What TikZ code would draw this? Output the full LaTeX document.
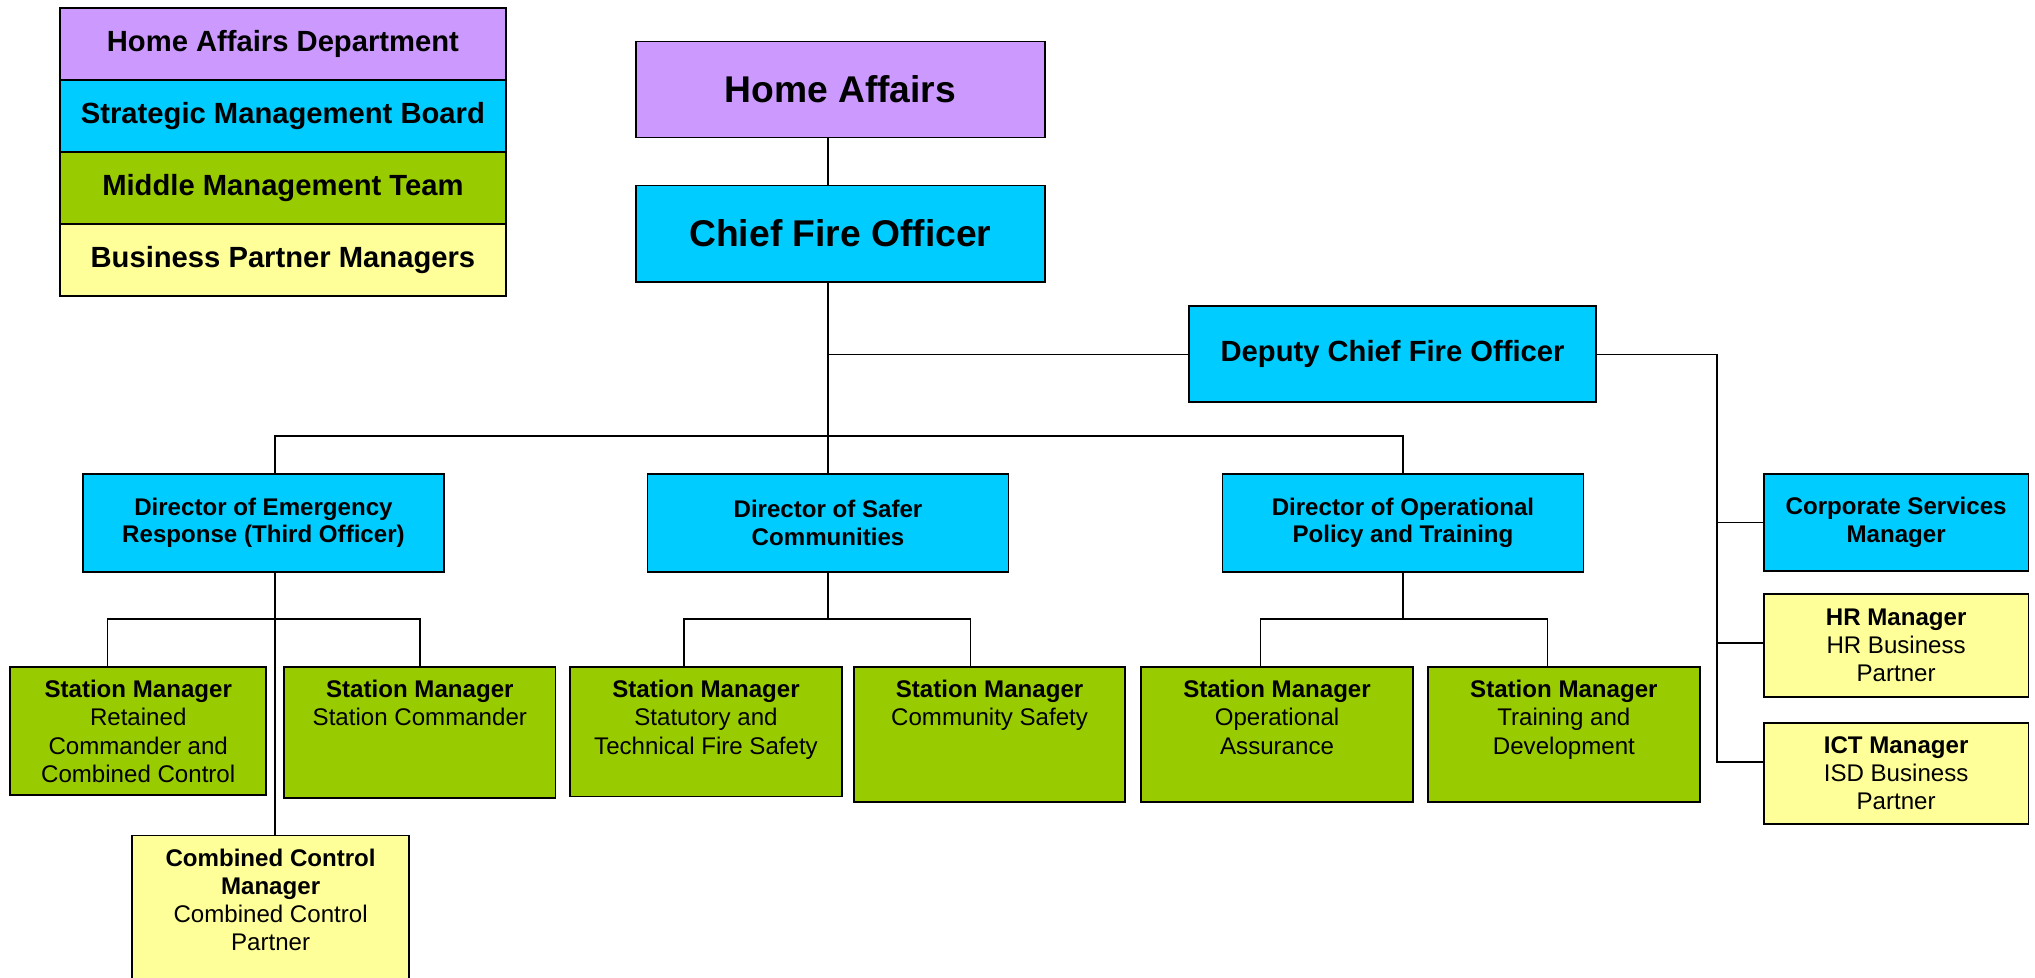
\documentclass[tikz,border=0pt]{standalone}
\usepackage{fontspec}
\setmainfont{Liberation Sans}
\usetikzlibrary{calc}
\definecolor{HomeClr}{HTML}{CC99FF}
\definecolor{BoardClr}{HTML}{00CCFF}
\definecolor{TeamClr}{HTML}{99CC00}
\definecolor{PartnerClr}{HTML}{FFFF99}
\newcommand{\topalign}[3]{\parbox[c][#1][t]{#2}{\centering\vspace*{7.5pt}#3}}

\begin{document}
\begin{tikzpicture}[x=0.025cm,y=-0.025cm,
  box/.style={draw=black,line width=1pt,inner sep=0pt,align=center,
    font=\fontsize{13.2}{15.4}\selectfont},
  legend/.style={box,minimum width=8.6cm,minimum height=1.3875cm,
    font=\bfseries\fontsize{16}{19}\selectfont},
  top/.style={box,fill=#1,minimum width=7.875cm,minimum height=1.85cm,
    font=\bfseries\fontsize{20.4}{24}\selectfont},
  director/.style={box,fill=BoardClr,minimum width=6.95cm,minimum height=1.9cm,
    font=\bfseries\fontsize{13.2}{15}\selectfont},
  side/.style={box,fill=#1,minimum width=5.1cm},
  station/.style={box,fill=TeamClr,anchor=north},
  link/.style={line width=0.8pt}]
\useasboundingbox (0,0) rectangle (1568,753);

% Legend.
\node[legend,fill=HomeClr] (kHome) at (218,33.75) {Home Affairs Department};
\node[legend,fill=BoardClr] (kBoard) at (218,89.25) {Strategic Management Board};
\node[legend,fill=TeamClr] (kTeam) at (218,144.75) {Middle Management Team};
\node[legend,fill=PartnerClr] (kPartner) at (218,200.25) {Business Partner Managers};

% Top of the chart.
\node[top=HomeClr] (ha) at (647.5,69) {Home Affairs};
\node[top=BoardClr] (cfo) at (647.5,180) {Chief Fire Officer};
\node[box,fill=BoardClr,minimum width=7.85cm,minimum height=1.85cm,
  font=\bfseries\fontsize{16}{19}\selectfont] (dep) at (1073,273) {Deputy Chief Fire Officer};

% Directors.
\node[director] (d1) at (203,403) {Director of Emergency\\Response (Third Officer)};
\node[director] (d2) at (638,403) {Director of Safer\\Communities};
\node[director] (d3) at (1081,403) {Director of Operational\\Policy and Training};

% Corporate side.
\node[side=BoardClr,minimum height=1.875cm,font=\bfseries\fontsize{13.2}{15}\selectfont]
  (corp) at (1461,402.5) {Corporate Services\\Manager};
\node[side=PartnerClr,minimum height=1.975cm] (hr) at (1461,497.5)
  {\textbf{HR Manager}\\HR Business\\Partner};
\node[side=PartnerClr,minimum height=1.95cm] (ict) at (1461,596)
  {\textbf{ICT Manager}\\ISD Business\\Partner};

% Station managers.
\node[station] (sm1) at (106.5,513) {\topalign{2.475cm}{4.925cm}{\textbf{Station Manager}\\Retained\\Commander and\\Combined Control}};
\node[station] (sm2) at (323.5,513) {\topalign{2.525cm}{5.225cm}{\textbf{Station Manager}\\Station Commander}};
\node[station] (sm3) at (544,513) {\topalign{2.5cm}{5.25cm}{\textbf{Station Manager}\\Statutory and\\Technical Fire Safety}};
\node[station] (sm4) at (762.5,513) {\topalign{2.6cm}{5.225cm}{\textbf{Station Manager}\\Community Safety}};
\node[station] (sm5) at (984,513) {\topalign{2.6cm}{5.25cm}{\textbf{Station Manager}\\Operational\\Assurance}};
\node[station] (sm6) at (1205,513) {\topalign{2.6cm}{5.25cm}{\textbf{Station Manager}\\Training and\\Development}};
\node[box,fill=PartnerClr,anchor=north] (cc) at (208.5,643)
  {\topalign{2.875cm}{5.325cm}{\textbf{Combined Control}\\\textbf{Manager}\\Combined Control\\Partner}};

% Connection points.
\coordinate (bus) at (638,336);
\coordinate (lvl) at (0,477);
\coordinate (rv) at (1323,273);
\coordinate (d1top) at ($(d1.north)+(9,0)$);
\coordinate (d1bot) at ($(d1.south)+(9,0)$);
\coordinate (sm1top) at ($(sm1.north west)!0.38!(sm1.north east)$);
\coordinate (sm3top) at ($(sm3.north west)!0.42!(sm3.north east)$);
\coordinate (sm4top) at ($(sm4.north west)!0.43!(sm4.north east)$);
\coordinate (sm5top) at ($(sm5.north west)!0.44!(sm5.north east)$);
\coordinate (sm6top) at ($(sm6.north west)!0.44!(sm6.north east)$);

% Connectors.
\draw[link] (ha.south -| d2.north) -- (cfo.north -| d2.north);
\draw[link] (cfo.south -| d2.north) -- (d2.north);
\draw[link] (dep.west) -- (dep.west -| d2.north);
\draw[link] (d1top) |- (bus) -| (d3.north);

\draw[link] (d1bot) -- (d1bot |- cc.north);
\draw[link] (sm1top) -- (sm1top |- lvl) -- (sm2.north |- lvl) -- (sm2.north);
\draw[link] (d2.south) -- (d2.south |- lvl);
\draw[link] (sm3top) -- (sm3top |- lvl) -- (sm4top |- lvl) -- (sm4top);
\draw[link] (d3.south) -- (d3.south |- lvl);
\draw[link] (sm5top) -- (sm5top |- lvl) -- (sm6top |- lvl) -- (sm6top);

\draw[link] (dep.east) -- (rv) |- ($(ict.west)+(0,-9)$);
\draw[link] (rv |- corp.west) -- (corp.west);
\draw[link] ($(rv |- hr.west)+(0,-2)$) -- ($(hr.west)+(0,-2)$);

\end{tikzpicture}
\end{document}
